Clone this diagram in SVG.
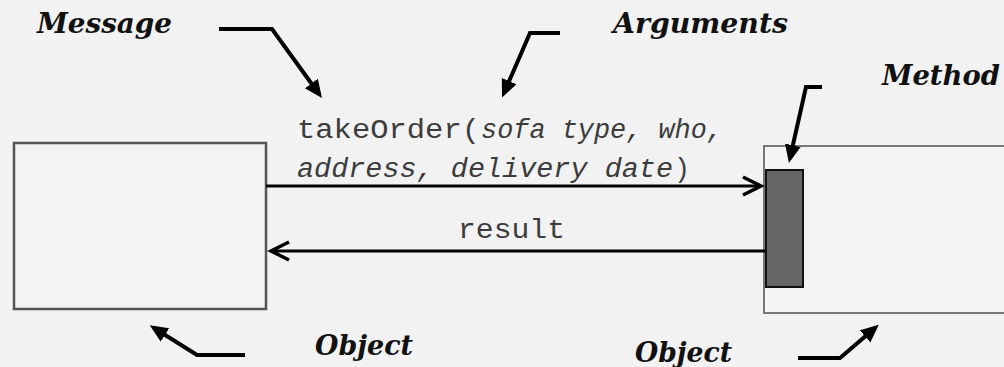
<svg xmlns="http://www.w3.org/2000/svg" width="1004" height="367" viewBox="0 0 1004 367">
  <style>
    .bg { fill: #f2f2f2; }
    .obj { fill: #f3f3f3; stroke: #555; stroke-width: 2.5; }
    .obj2 { fill: #f3f3f3; stroke: #777; stroke-width: 2; }
    .method { fill: #666; stroke: #111; stroke-width: 2; }
    .lbl { font-family: "DejaVu Serif", "Liberation Serif", serif; font-weight: bold; font-style: italic; font-size: 27px; fill: #111; }
    .code { font-family: "Liberation Mono", "Courier New", monospace; font-size: 27px; fill: #3c3c3c; }
    .it { font-style: italic; }
    .pointer { fill: none; stroke: #000; stroke-width: 4; stroke-linejoin: miter; }
    .msg { fill: none; stroke: #000; stroke-width: 3; }
  </style>
  <defs>
    <marker id="tri" markerUnits="userSpaceOnUse" markerWidth="22" markerHeight="18" refX="13" refY="8" orient="auto">
      <path d="M0,0 L18,8 L0,16 z" fill="#000"/>
    </marker>
    <marker id="chev" markerUnits="userSpaceOnUse" markerWidth="24" markerHeight="24" refX="20" refY="12" orient="auto" overflow="visible">
      <path d="M2,3 L20,12 L2,21" fill="none" stroke="#000" stroke-width="3.5" stroke-linejoin="miter"/>
    </marker>
  </defs>
  <rect class="bg" x="0" y="0" width="1004" height="367"/>

  <g id="object-left">
    <rect class="obj" x="14" y="143" width="252" height="166"/>
  </g>

  <g id="object-right">
    <rect class="obj2" x="764" y="146" width="260" height="167"/>
    <g id="method">
      <rect class="method" x="766" y="170" width="37" height="117"/>
    </g>
  </g>

  <g id="connectors">
    <path id="call" class="msg" d="M266,186 L761,186" marker-end="url(#chev)"/>
    <path id="return" class="msg" d="M765,251 L271,251" marker-end="url(#chev)"/>
    <path id="ptr-message" class="pointer" d="M219,29 L272,29 L319,94" marker-end="url(#tri)"/>
    <path id="ptr-arguments" class="pointer" d="M560,33 L530,33 L504,93" marker-end="url(#tri)"/>
    <path id="ptr-method" class="pointer" d="M822,87 L806,87 L790,158" marker-end="url(#tri)"/>
    <path id="ptr-object-left" class="pointer" d="M245,355 L197,355 L154,328" marker-end="url(#tri)"/>
    <path id="ptr-object-right" class="pointer" d="M798,358 L840,358 L875,328" marker-end="url(#tri)"/>
  </g>

  <g id="message-text">
    <text class="code" x="297" y="138" textLength="183" lengthAdjust="spacingAndGlyphs">takeOrder(</text>
    <text class="code it" x="481" y="138" textLength="242" lengthAdjust="spacingAndGlyphs">sofa type, who,</text>
    <text class="code it" x="297" y="177" textLength="376" lengthAdjust="spacingAndGlyphs">address, delivery date</text>
    <text class="code" x="674" y="177" textLength="16" lengthAdjust="spacingAndGlyphs">)</text>
    <text class="code" x="458" y="238" textLength="107" lengthAdjust="spacingAndGlyphs">result</text>
  </g>

  <g id="labels">
    <text class="lbl" x="37" y="33" textLength="135" lengthAdjust="spacingAndGlyphs">Message</text>
    <text class="lbl" x="613" y="33" textLength="175" lengthAdjust="spacingAndGlyphs">Arguments</text>
    <text class="lbl" x="882" y="85" textLength="118" lengthAdjust="spacingAndGlyphs">Method</text>
    <text class="lbl" x="315" y="355" textLength="98" lengthAdjust="spacingAndGlyphs">Object</text>
    <text class="lbl" x="635" y="362" textLength="97" lengthAdjust="spacingAndGlyphs">Object</text>
  </g>
</svg>
